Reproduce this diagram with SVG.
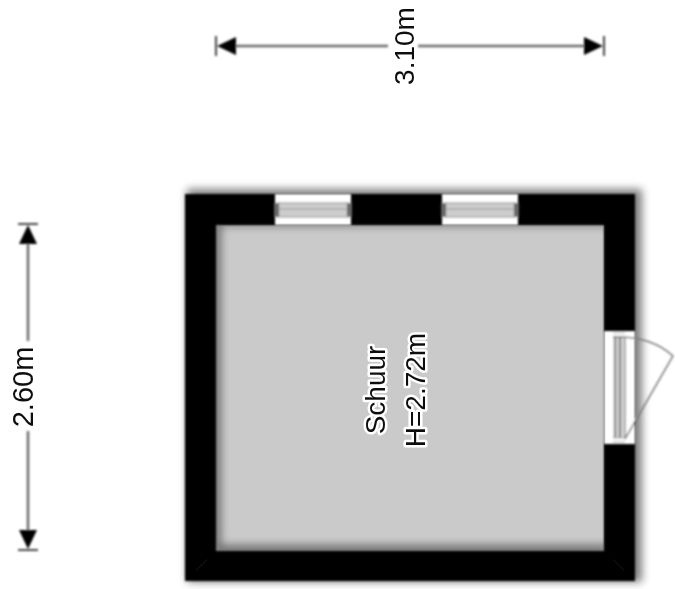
<svg xmlns="http://www.w3.org/2000/svg" width="675" height="589" viewBox="0 0 675 589">
<style>
text{font-family:"Liberation Sans",Arial,sans-serif;fill:#111}
.big{font-size:29px}
.mid{font-size:28px}
.dim{stroke:#6a6a6a;stroke-width:2.5;fill:none}
.tick{stroke:#444;stroke-width:2;fill:none}
.head{fill:#000}
.halo{paint-order:stroke;stroke:#fff;stroke-width:5px;stroke-linejoin:round}
</style>
<defs>
<filter id="soft" x="-5%" y="-5%" width="110%" height="110%"><feGaussianBlur stdDeviation="0.9"/></filter>
<filter id="shadow" x="-10%" y="-10%" width="120%" height="120%"><feGaussianBlur stdDeviation="4"/></filter>
<filter id="textblur" x="-20%" y="-20%" width="140%" height="140%"><feGaussianBlur stdDeviation="0.55"/></filter>
<clipPath id="roomclip"><rect x="216" y="225" width="388" height="326"/></clipPath>
</defs>
<rect width="675" height="589" fill="#fff"/>
<g id="shadows">
<rect x="187" y="189" width="455" height="393" fill="#000" opacity=".5" filter="url(#shadow)"/>
</g>
<g id="room">
<rect x="216" y="225" width="388" height="326" fill="#cacaca"/>
<g clip-path="url(#roomclip)"><path d="M212 221H608V226H221V555H212Z M212 545H608V555H212Z" fill="#000" opacity=".45" filter="url(#shadow)"/></g>
</g>
<g id="walls" filter="url(#soft)">
<path d="M185 194H635V581H185ZM216 225V551H604V225Z" fill-rule="evenodd" fill="#000"/>
<path d="M187 196L216 225M633 196L604 225M187 579L216 551M633 579L604 551" stroke="#161616" stroke-width="1" fill="none"/>
</g>
<g id="window-1" filter="url(#soft)">
<rect x="275" y="194" width="76" height="31" fill="#fff"/>
<rect x="278" y="203" width="70" height="14" fill="#cdcdcd"/>
<path d="M278 203H348M278 209H348M278 217H348" stroke="#aaa" stroke-width="1.5" fill="none"/>
<rect x="275" y="203" width="4" height="14" fill="#555" stroke="#aaa"/>
<rect x="347" y="203" width="4" height="14" fill="#555" stroke="#aaa"/>
</g>
<g id="window-2" filter="url(#soft)">
<rect x="442" y="194" width="76" height="31" fill="#fff"/>
<rect x="445" y="203" width="70" height="14" fill="#cdcdcd"/>
<path d="M445 203H515M445 209H515M445 217H515" stroke="#aaa" stroke-width="1.5" fill="none"/>
<rect x="442" y="203" width="4" height="14" fill="#555" stroke="#aaa"/>
<rect x="514" y="203" width="4" height="14" fill="#555" stroke="#aaa"/>
</g>
<g id="door" filter="url(#soft)">
<rect x="604" y="331" width="31" height="113" fill="#fff"/>
<rect x="614" y="337" width="11" height="101" fill="#d9d9d9"/>
<path d="M615 337V438M620 337V438" stroke="#8c8c8c" stroke-width="2.5" fill="none"/>
<path d="M625 337V438" stroke="#a8a8a8" stroke-width="2" fill="none"/>
<path d="M613 333H625M613 337H625M613 438H625M613 442H625" stroke="#aaa" stroke-width="1" fill="none"/>
<path d="M613 337C638 336 658 342 673 356L625 439" stroke="#7c7c7c" stroke-width="1.5" fill="none"/>
</g>
<g id="connectors" filter="url(#soft)">
<path class="dim" d="M232 46H388M418 46H589"/>
<path class="tick" d="M216 36V56M604 36V56"/>
<path class="head" d="M217 46L236 37V55ZM603 46L584 37V55Z"/>
<path class="dim" d="M28 242V341M28 431V532"/>
<path class="tick" d="M18 224H38M18 550H38"/>
<path class="head" d="M28 225L19 244H37ZM28 549L19 530H37Z"/>
</g>
<g id="labels" filter="url(#textblur)">
<text class="mid" transform="translate(414 46) rotate(-90)" text-anchor="middle">3.10m</text>
<text class="big" transform="translate(33 387) rotate(-90)" text-anchor="middle">2.60m</text>
<text class="mid halo" transform="translate(385 390) rotate(-90)" text-anchor="middle">Schuur</text>
<text class="mid halo" transform="translate(425 390) rotate(-90)" text-anchor="middle">H=2.72m</text>
</g>
</svg>
